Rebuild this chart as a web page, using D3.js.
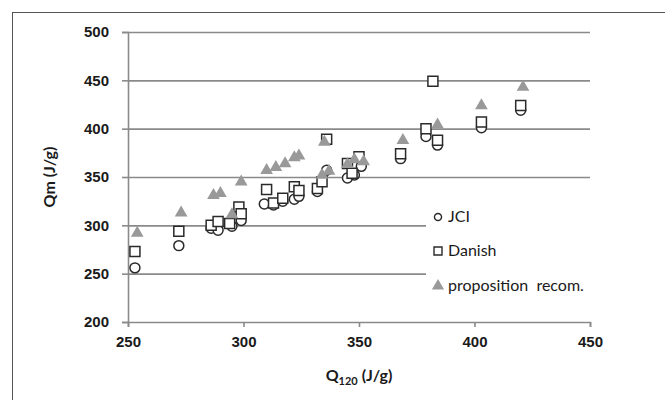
<!DOCTYPE html>
<html>
<head>
<meta charset="utf-8">
<script src="https://cdn.jsdelivr.net/npm/d3@7"></script>
<style>
  body { margin: 0; background: #fff; }
  svg { display: block; font-family: Lato, "Open Sans", sans-serif; }
</style>
</head>
<body>
<svg id="chart" width="665" height="400"></svg>
<script>
// data: [Q120, Qm]
const jci = [
  [253, 256], [272, 279], [286, 297], [289, 295], [295, 299], [299, 305],
  [309, 322], [313, 321], [317, 325], [322, 327], [324, 330], [332, 335],
  [336, 357], [345, 349], [348, 352], [351, 361], [368, 369], [379, 392],
  [384, 383], [403, 401], [420, 419]
];
const danish = [
  [253, 273], [272, 294], [286, 300], [289, 304], [294, 302], [298, 319],
  [299, 312], [310, 337], [313, 323], [317, 328], [322, 340], [324, 336],
  [332, 338], [334, 345], [336, 389], [345, 364], [347, 354], [350, 371],
  [368, 374], [379, 400], [382, 449], [384, 388], [403, 407], [420, 424]
];
const proposition = [
  [254, 292], [273, 313], [287, 331], [290, 333], [295, 311], [299, 345],
  [310, 357], [314, 360], [318, 364], [322, 370], [324, 372], [334, 352],
  [335, 386], [337, 356], [345, 363], [348, 368], [352, 366], [369, 388],
  [384, 404], [403, 424], [421, 443]
];
const xTicks = [250, 300, 350, 400, 450];
const yTicks = [200, 250, 300, 350, 400, 450, 500];
const seriesNames = ['JCI', 'Danish', 'proposition  recom.'];

const svg = d3.select('#chart');

// outer frame
svg.append('rect')
  .attr('x', 12.5).attr('y', 12.5)
  .attr('width', 700).attr('height', 420)
  .attr('fill', 'none')
  .attr('stroke', '#555')
  .attr('stroke-width', 1);

const x = d3.scaleLinear().domain([250, 450]).range([128, 590]);
const y = d3.scaleLinear().domain([200, 500]).range([322, 32]);

const axisColor = '#8a8a8a';
const textColor = '#1a1a1a';

// horizontal gridlines
svg.append('g')
  .attr('transform', `translate(${x(250)},0)`)
  .call(d3.axisLeft(y).tickValues(yTicks.slice(1)).tickSize(-(x(450) - x(250))).tickFormat(''))
  .call(g => g.select('.domain').remove())
  .call(g => g.selectAll('line').attr('stroke', axisColor).attr('stroke-width', 1.6));

// y axis
svg.append('g')
  .attr('transform', `translate(${x(250)},0)`)
  .call(d3.axisLeft(y).tickValues(yTicks).tickSize(6).tickPadding(13))
  .call(g => g.select('.domain').attr('stroke', axisColor).attr('stroke-width', 1.6))
  .call(g => g.selectAll('line').attr('stroke', axisColor).attr('stroke-width', 1.6))
  .call(g => g.selectAll('text').attr('font-size', 15).attr('fill', textColor).attr('font-weight', 600));

// x axis
svg.append('g')
  .attr('transform', `translate(0,${y(200)})`)
  .call(d3.axisBottom(x).tickValues(xTicks).tickSize(5).tickPadding(9))
  .call(g => g.select('.domain').attr('stroke', axisColor).attr('stroke-width', 1.6))
  .call(g => g.selectAll('line').attr('stroke', axisColor).attr('stroke-width', 1.6))
  .call(g => g.selectAll('text').attr('font-size', 15).attr('fill', textColor).attr('font-weight', 600));

// axis titles
svg.append('text')
  .attr('transform', `translate(55,${(y(200) + y(500)) / 2}) rotate(-90)`)
  .attr('text-anchor', 'middle')
  .attr('font-size', 16)
  .attr('font-weight', 'bold')
  .attr('fill', textColor)
  .text('Qm (J/g)');

const xt = svg.append('text')
  .attr('x', (x(250) + x(450)) / 2)
  .attr('y', 381)
  .attr('text-anchor', 'middle')
  .attr('font-size', 16)
  .attr('font-weight', 'bold')
  .attr('fill', textColor);
xt.append('tspan').text('Q');
xt.append('tspan').attr('font-size', 11).attr('dy', 4).text('120');
xt.append('tspan').attr('dy', -4).text(' (J/g)');

// marker styles
const markers = [
  { data: jci, type: d3.symbolCircle, size: 78, legendSize: 40, fill: '#fff', stroke: '#2a2a2a' },
  { data: danish, type: d3.symbolSquare, size: 100, legendSize: 64, fill: '#fff', stroke: '#2a2a2a' },
  { data: proposition, type: d3.symbolTriangle, size: 70, legendSize: 64, fill: '#999', stroke: 'none' }
];

markers.forEach(m => {
  svg.append('g')
    .selectAll('path')
    .data(m.data)
    .join('path')
    .attr('transform', d => `translate(${x(d[0])},${y(d[1])})`)
    .attr('d', d3.symbol().type(m.type).size(m.size))
    .attr('fill', m.fill)
    .attr('stroke', m.stroke)
    .attr('stroke-width', 1.5);
});

// legend (white box covers the gridlines behind it)
const legend = svg.append('g');
legend.append('rect')
  .attr('x', 426).attr('y', 198)
  .attr('width', 168).attr('height', 104)
  .attr('fill', '#fff');

const legendY = [217, 251, 286];
seriesNames.forEach((name, i) => {
  const m = markers[i];
  legend.append('path')
    .attr('transform', `translate(438,${legendY[i]})`)
    .attr('d', d3.symbol().type(m.type).size(m.legendSize))
    .attr('fill', m.fill)
    .attr('stroke', m.stroke)
    .attr('stroke-width', 1.4);
  legend.append('text')
    .attr('x', 448)
    .attr('y', legendY[i] + 5)
    .attr('font-size', 16)
    .attr('fill', textColor)
    .style('white-space', 'pre')
    .text(name);
});
</script>
</body>
</html>
